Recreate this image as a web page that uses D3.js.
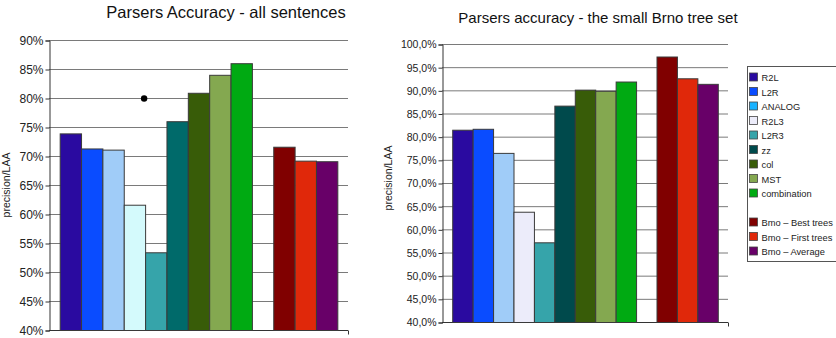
<!DOCTYPE html>
<html><head><meta charset="utf-8">
<script src="https://cdn.jsdelivr.net/npm/d3@7"></script>
<style>
html,body{margin:0;padding:0;background:#fff;}
svg{display:block;font-family:Arial,"Liberation Sans",sans-serif;}
</style></head>
<body>
<svg id="c" width="836" height="338"></svg>
<script>
// ---- data ----
const slots = ["R2L","L2R","ANALOG","R2L3","L2R3","zz","col","MST","combination","gap","Bmo – Best trees","Bmo – First trees","Bmo – Average"];
const legendNames = ["R2L","L2R","ANALOG","R2L3","L2R3","zz","col","MST","combination","","Bmo – Best trees","Bmo – First trees","Bmo – Average"];
const allSentences = [73.9,71.3,71.1,61.6,53.4,76.0,80.9,84.0,86.0,null,71.6,69.2,69.1];
const brnoSet      = [81.5,81.7,76.5,63.8,57.2,86.7,90.15,89.9,91.9,null,97.3,92.6,91.4];
const markerPoint  = {after:"R2L3", value:80};
const leftTicks  = [40,45,50,55,60,65,70,75,80,85,90];
const rightTicks = [40,45,50,55,60,65,70,75,80,85,90,95,100];
const leftColors  = ["#2a0aa0","#0a4cff","#a0ccf8","#d4fafc","#36a4aa","#006a6a","#385c08","#84a850","#00aa12",null,"#800000","#e0280a","#680068"];
const rightColors = ["#2a0aa0","#0a4cff","#a0ccf8","#ececfa","#36a4aa","#004a4c","#385c08","#84a850","#00aa12",null,"#800000","#e0280a","#680068"];
const legendColors= ["#2a0aa0","#0a4cff","#19b2ff","#ececfa","#36a4aa","#004a4c","#385c08","#84a850","#00aa12",null,"#800000","#e0280a","#680068"];

const svg = d3.select("#c");

function drawChart(o){
  const g = svg.append("g");
  const x = d3.scaleBand().domain(slots).range([o.x0,o.x1]).paddingInner(0).paddingOuter(0.5);
  const y = d3.scaleLinear().domain(o.domain).range([o.y0,o.y1]);
  // gridlines
  g.selectAll("line.grid").data(o.ticks).join("line")
    .attr("x1",o.x0).attr("x2",o.x1)
    .attr("y1",d=>y(d)+0.5).attr("y2",d=>y(d)+0.5)
    .attr("stroke",d=>d===o.domain[0]?"#333":"#7a7a7a").attr("stroke-width",1);
  // y axis
  const ax = g.append("g").attr("transform",`translate(${o.x0+0.5},0.5)`)
    .call(d3.axisLeft(y).tickValues(o.ticks).tickSize(4).tickPadding(2).tickFormat(o.fmt));
  ax.select(".domain").attr("stroke","#333");
  ax.selectAll(".tick line").attr("stroke","#333");
  ax.selectAll("text").attr("font-size",o.tickFont).attr("fill","#222")
    .attr("font-family","Arial,'Liberation Sans',sans-serif");
  // bottom axis end ticks
  const xa = g.append("g").attr("transform",`translate(0,${o.y0+0.5})`)
    .call(d3.axisBottom(d3.scaleLinear().domain([0,1]).range([o.x0,o.x1])).tickValues([1]).tickSize(4).tickFormat(""));
  xa.select(".domain").remove();
  xa.selectAll(".tick line").attr("stroke","#333");
  // bars
  const data = slots.map((s,i)=>({s,v:o.values[i],c:o.colors[i]})).filter(d=>d.v!=null);
  g.selectAll("rect.bar").data(data).join("rect")
    .attr("x",d=>x(d.s)+0.5).attr("width",x.bandwidth())
    .attr("y",d=>y(d.v)+0.5).attr("height",d=>y(o.domain[0])-y(d.v))
    .attr("fill",d=>d.c).attr("stroke","#3a3a3a").attr("stroke-width",1);
  // y label
  g.append("text").attr("transform",`translate(${o.labelX},${o.labelY}) rotate(-90)`)
    .attr("text-anchor","middle").attr("font-size",10.5).attr("fill","#222").text("precision/LAA");
  // title
  g.append("text").attr("x",o.titleX).attr("y",o.titleY).attr("text-anchor","middle")
    .attr("font-size",o.titleFont).attr("fill","#111").text(o.title);
  return {x,y,g};
}

const L = drawChart({x0:49,x1:348,y0:330,y1:40,domain:[40,90],ticks:leftTicks,
  fmt:d=>d+"%",values:allSentences,colors:leftColors,tickFont:12,
  labelX:10,labelY:185,title:"Parsers Accuracy - all sentences",titleX:226,titleY:18,titleFont:16.5});
L.g.append("circle").attr("cx",L.x(markerPoint.after)+L.x.bandwidth()-1).attr("cy",L.y(markerPoint.value)+0.5)
  .attr("r",3.2).attr("fill","#000");

drawChart({x0:442,x1:728,y0:322,y1:44,domain:[40,100],ticks:rightTicks,
  fmt:d=>d3.format(".1f")(d).replace(".",",")+"%",values:brnoSet,colors:rightColors,tickFont:10.5,
  labelX:392,labelY:178,title:"Parsers accuracy - the small Brno tree set",titleX:598,titleY:23,titleFont:15});

// legend
const lg = svg.append("g");
lg.append("rect").attr("x",747.5).attr("y",66.5).attr("width",100).attr("height",195)
  .attr("fill","#fff").attr("stroke","#555");
const ly = d3.scalePoint().domain(d3.range(legendNames.length)).range([77.5,251.5]);
const items = legendNames.map((n,i)=>({n,i,c:legendColors[i]})).filter(d=>d.n!=="");
const it = lg.selectAll("g.item").data(items).join("g")
  .attr("transform",d=>`translate(749.5,${ly(d.i)})`);
it.append("rect").attr("x",0).attr("y",-4.5).attr("width",8).attr("height",8)
  .attr("fill",d=>d.c).attr("stroke","#444").attr("stroke-width",0.8);
it.append("text").attr("x",12).attr("y",3.5).attr("font-size",9.3).attr("fill","#222").text(d=>d.n);
</script>
</body></html>
